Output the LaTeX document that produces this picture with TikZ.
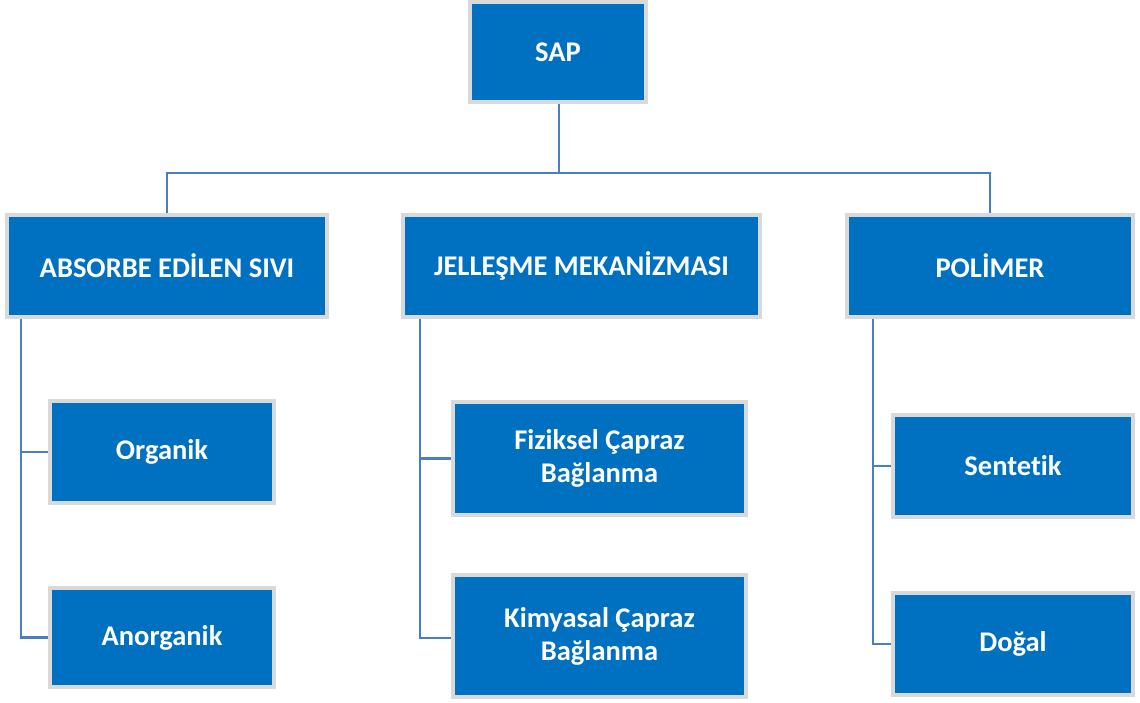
\documentclass[tikz,border=0pt]{standalone}
\usepackage{fontspec}
\setmainfont{Carlito}[Ligatures=NoCommon]
\definecolor{boxblue}{HTML}{0070C0}
\definecolor{boxedge}{HTML}{D9D9D9}
\definecolor{linkblue}{HTML}{4A7EC4}
\begin{document}
\begin{tikzpicture}[x=1pt,y=-1pt,
  orgbox/.style={draw=boxedge, line width=4pt, fill=boxblue, text=white,
    font=\fontsize{28.5}{33}\selectfont\bfseries, align=center,
    inner sep=0pt, outer sep=2pt, anchor=center},
  link/.style={draw=linkblue, line width=2.4pt}]
\useasboundingbox (0,0) rectangle (1140,702);
\node[orgbox, minimum width=176, minimum height=100] (sap) at (558,52) {SAP};
\node[orgbox, minimum width=320, minimum height=102] (abs) at (167,266) {ABSORBE EDİLEN SIVI};
\node[orgbox, minimum width=357, minimum height=102] (jel) at (581.5,266) {JELLEŞME MEKANİZMASI};
\node[orgbox, minimum width=286, minimum height=102] (pol) at (990,266) {POLİMER};
\node[orgbox, minimum width=224, minimum height=102] (org) at (162,452) {Organik};
\node[orgbox, minimum width=224, minimum height=99] (anorg) at (162,637.5) {Anorganik};
\node[orgbox, minimum width=293, minimum height=113] (fiz) at (599.5,458.5) {Fiziksel Çapraz\\Bağlanma\\[-27pt]};
\node[orgbox, minimum width=293, minimum height=122] (kim) at (599.5,636) {Kimyasal Çapraz\\Bağlanma};
\node[orgbox, minimum width=240, minimum height=102] (sen) at (1013,466) {Sentetik};
\node[orgbox, minimum width=240, minimum height=102] (dog) at (1013,644) {Doğal};
\coordinate (hub) at (559,173);
\coordinate (lx) at (21,0);
\coordinate (mx) at (420,0);
\coordinate (rx) at (873,0);
% top tree
\draw[link] ([xshift=1pt]sap.south) -- (hub);
\draw[link] (abs.north) |- (hub) -| (pol.north);
% left
\draw[link] (abs.south -| lx) |- (anorg.west);
\draw[link] (org.west -| lx) -- (org.west);
% middle
\draw[link] (jel.south -| mx) |- ([yshift=-2pt]kim.west);
\draw[link] (fiz.west -| mx) -- (fiz.west);
% right
\draw[link] (pol.south -| rx) |- (dog.west);
\draw[link] (sen.west -| rx) -- (sen.west);
\end{tikzpicture}
\end{document}
